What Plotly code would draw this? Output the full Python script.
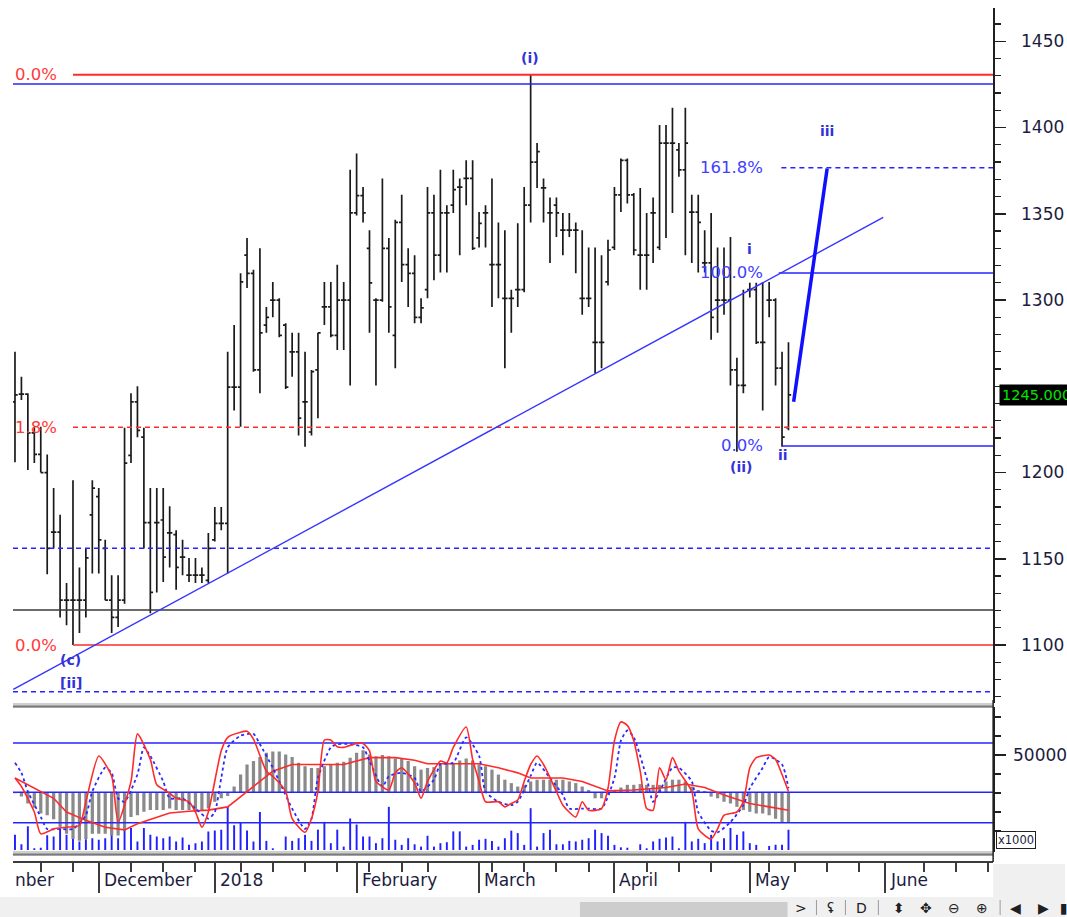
import plotly.graph_objects as go

W, H = 1067, 917

# ---------------- price bars (daily, index = trading day from mid-Nov 2017) ----------------
opens = [1241, 1245.5, 1245.5, 1223, 1210.5, 1200, 1165.5, 1165.5, 1126, 1126,
         1126, 1126, 1175.5, 1186, 1156, 1126, 1116, 1126, 1210, 1241,
         1220.5, 1171, 1171, 1172.5, 1165, 1164, 1151, 1140.5, 1140.5, 1140.5,
         1137.5, 1161, 1170.5, 1170.5, 1249.5, 1249.5, 1326, 1315.5, 1259.5, 1285.5,
         1300, 1300, 1285.5, 1270, 1270, 1241, 1223.5, 1259.5, 1296, 1296,
         1279.5, 1300, 1300, 1350.5, 1360.5, 1330, 1300, 1300, 1330, 1279.5,
         1345, 1320.5, 1315.5, 1290, 1306, 1350.5, 1326, 1350.5, 1355, 1365.5,
         1370.5, 1370.5, 1336, 1350.5, 1320.5, 1320.5, 1301, 1301, 1306, 1306,
         1355, 1380, 1365, 1350.5, 1355, 1340.5, 1340.5, 1340.5, 1301, 1301,
         1275.5, 1275.5, 1310.5, 1330.5, 1361, 1381, 1361, 1326, 1326, 1350.5,
         1330.5, 1391, 1391, 1387, 1375.5, 1351, 1351, 1321.5, 1321.5, 1300,
         1300, 1300, 1259.5, 1250.5, 1306, 1306, 1275.5, 1300, 1300, 1260.5,
         1226]
highs = [1270, 1255.5, 1246, 1226.5, 1226.5, 1210.5, 1191, 1175.5, 1136, 1195.5,
         1145, 1156, 1195.5, 1191, 1161, 1140.5, 1140.5, 1226, 1246, 1250,
         1226, 1191, 1191, 1191, 1180.5, 1166.5, 1161, 1150.5, 1150.5, 1145,
         1165, 1180, 1180, 1270, 1285.5, 1315.5, 1336, 1317.5, 1330, 1296,
         1310.5, 1301, 1286.5, 1281, 1281, 1270, 1259.5, 1281, 1310.5, 1310.5,
         1320.5, 1310.5, 1375.5, 1385, 1365.5, 1340.5, 1301, 1370.5, 1336, 1346.5,
         1361, 1330, 1326, 1301, 1365.5, 1361, 1375.5, 1355, 1375.5, 1370.5,
         1381, 1381, 1351, 1355, 1370.5, 1345, 1340.5, 1306, 1344.5, 1365.5,
         1430.5, 1391, 1370.5, 1359.5, 1359.5, 1350.5, 1350.5, 1345, 1340.5, 1330.5,
         1330.5, 1326, 1335, 1365.5, 1382, 1382, 1362, 1365, 1350.5, 1359.5,
         1401.5, 1401.5, 1411.5, 1391, 1411.5, 1361, 1361, 1340.5, 1350.5, 1330.5,
         1330.5, 1336.5, 1266.5, 1306, 1310, 1310, 1310.5, 1310.5, 1301, 1270,
         1275.5]
lows = [1206, 1242, 1201.5, 1205.5, 1200, 1141, 1156, 1116, 1111.5, 1100,
        1107, 1116, 1141.5, 1141.5, 1126, 1107, 1110.5, 1124, 1205.5, 1220.5,
        1156, 1118.5, 1130.5, 1136.5, 1145, 1132, 1140.5, 1136.5, 1136, 1136,
        1136, 1160, 1166.5, 1141.5, 1236, 1226.5, 1307, 1258.5, 1246, 1281,
        1290, 1278.5, 1248.5, 1255.5, 1221.5, 1215, 1221.5, 1231.5, 1285.5, 1278.5,
        1271, 1271, 1250.5, 1349, 1345, 1281, 1250.5, 1299, 1281, 1260.5,
        1310.5, 1296, 1286.5, 1286.5, 1301, 1311.5, 1316, 1316, 1350.5, 1326,
        1355, 1329, 1330.5, 1330.5, 1296, 1301, 1260.5, 1281, 1296, 1304.5,
        1345, 1365, 1345, 1321.5, 1336.5, 1326, 1336.5, 1315.5, 1291.5, 1296,
        1257.5, 1260.5, 1308.5, 1329, 1351, 1356, 1326, 1306, 1306, 1321.5,
        1329, 1336, 1350.5, 1371.5, 1326, 1321.5, 1316, 1316, 1277, 1281,
        1291.5, 1250.5, 1212, 1246, 1301.5, 1274.5, 1236, 1290, 1250.5, 1215,
        1224.5]
closes = [1245, 1245.5, 1223, 1210.5, 1200, 1156, 1165.5, 1126, 1126, 1126,
          1126, 1150.5, 1191, 1161, 1126, 1116, 1126, 1205.5, 1241, 1224.5,
          1171, 1130.5, 1171, 1151, 1165, 1145, 1151, 1140.5, 1140.5, 1140.5,
          1156, 1170.5, 1170.5, 1249.5, 1249.5, 1310.5, 1315.5, 1259.5, 1281, 1290,
          1300, 1279.5, 1249.5, 1270, 1231.5, 1241, 1258.5, 1281, 1296, 1279.5,
          1300, 1300, 1350.5, 1360.5, 1350.5, 1310, 1300, 1330, 1296, 1345,
          1320.5, 1315.5, 1290, 1295.5, 1350.5, 1326, 1350.5, 1350.5, 1364, 1365.5,
          1370.5, 1330, 1344.5, 1350.5, 1320.5, 1320.5, 1301, 1301, 1306, 1355,
          1380, 1386, 1365, 1350.5, 1350.5, 1340.5, 1340.5, 1340.5, 1301, 1301,
          1275.5, 1275.5, 1329, 1361, 1381, 1361, 1329, 1326, 1326, 1350.5,
          1391, 1391, 1391, 1375.5, 1391, 1351, 1345, 1321.5, 1290, 1300,
          1300, 1259.5, 1250.5, 1250.5, 1306, 1275.5, 1275.5, 1300, 1260.5, 1220.5,
          1245]
bar_idx = list(range(len(closes)))
last_price = 1245.000

# ---------------- lower panel (values in thousands) ----------------
volume_k = [8.0, 3.0, 12.5, 0.9, 1.2, 7.7, 7.1, 11.6, 8.0, 8.4,
            4.5, 5.7, 6.2, 5.4, 6.2, 8.4, 6.2, 10.7, 11.6, 4.5,
            11.6, 8.0, 7.1, 6.2, 7.1, 4.5, 6.6, 2.7, 3.6, 4.5,
            9.8, 10.2, 10.7, 22.7, 13.0, 14.8, 10.2, 4.5, 20.0, 4.8,
            0.9, 0.0, 7.1, 4.8, 6.2, 8.0, 4.8, 10.7, 14.8, 3.6,
            10.7, 1.8, 16.6, 13.4, 7.1, 7.1, 3.6, 6.2, 22.7, 5.4,
            2.7, 6.2, 3.0, 1.8, 7.5, 1.8, 3.6, 4.1, 9.8, 9.8,
            1.8, 2.7, 5.4, 5.9, 4.8, 1.8, 6.2, 10.2, 8.9, 2.7,
            22.0, 1.8, 8.9, 10.7, 3.0, 3.0, 4.8, 4.5, 5.4, 6.2,
            10.7, 8.9, 7.5, 2.7, 1.4, 1.2, 0.0, 3.0, 0.9, 4.5,
            5.9, 6.6, 7.1, 0.9, 14.8, 4.5, 5.9, 3.6, 8.0, 4.5,
            6.2, 11.6, 8.0, 9.8, 3.6, 2.7, 0.0, 2.1, 2.7, 2.7,
            10.7]
hist_k = [-0.5, -2.3, -5.9, -8.2, -11.2, -12.1, -14.2, -18.3, -21.9, -24.6,
          -25.5, -24.6, -21.9, -21.9, -21.9, -22.8, -22.8, -20.1, -13.0, -12.1,
          -10.3, -9.4, -9.4, -9.4, -8.5, -9.4, -9.4, -9.4, -10.3, -9.4,
          -8.5, -5.0, -3.2, -2.0, 3.0, 9.3, 14.6, 16.4, 18.5, 20.8,
          21.4, 21.4, 19.9, 18.5, 15.5, 13.7, 12.8, 12.8, 13.7, 14.6,
          15.5, 16.0, 18.2, 20.8, 22.1, 19.9, 19.0, 19.6, 19.0, 17.8,
          17.8, 16.4, 13.7, 11.9, 12.8, 13.2, 14.2, 15.0, 15.5, 16.7,
          17.8, 16.7, 14.6, 13.7, 11.9, 9.3, 6.6, 4.8, 3.0, 3.9,
          5.7, 6.6, 6.6, 6.6, 6.6, 6.6, 5.7, 4.8, 3.0, 1.2,
          -3.2, -3.2, -1.4, 1.2, 2.5, 3.9, 3.9, 4.3, 3.9, 3.9,
          3.9, 5.7, 6.6, 6.6, 5.7, 3.0, 1.2, 0.7, -2.3, -3.2,
          -5.0, -5.9, -7.7, -9.4, -10.3, -11.2, -11.2, -12.1, -13.9, -15.7,
          -15.7]
hist_base_k = 30.4
osc_levels_k = [56.3, 30.4, 14.4]

osc_fast = [(0, 37.9), (1, 33.4), (3, 20.0), (4, 8.5), (6, 11.1), (8, 12.0), (10, 12.9), (11, 25.4),
            (13, 49.5), (15, 38.8), (16, 14.7), (18, 36.1), (19, 61.1), (21, 47.7), (22, 34.3),
            (24, 29.9), (25, 27.2), (27, 25.4), (28, 20.0), (29, 12.0), (30, 20.0), (32, 52.2),
            (33, 59.3), (35, 62.0), (36, 62.5), (37, 58.4), (39, 41.5), (40, 38.8), (42, 30.8),
            (43, 16.5), (45, 9.3), (46, 16.5), (47, 30.8), (48, 57.9), (49, 57.9), (50, 54.3),
            (51, 54.0), (53, 56.1), (54, 56.1), (55, 52.2), (56, 36.1), (58, 31.6), (59, 40.6),
            (60, 43.3), (62, 35.2), (63, 27.2), (64, 36.1), (66, 46.8), (67, 45.9), (68, 54.0),
            (70, 64.7), (71, 47.7), (72, 36.1), (73, 25.4), (75, 25.4), (76, 22.7), (77, 24.5),
            (78, 26.3), (79, 36.1), (80, 45.0), (81, 49.5), (82, 45.0), (84, 30.8), (85, 23.6),
            (87, 17.4), (88, 25.4), (89, 20.9), (91, 21.8), (92, 32.5), (93, 57.5), (94, 67.4),
            (95, 65.6), (96, 57.5), (97, 41.5), (98, 21.8), (99, 20.9), (100, 43.3), (101, 37.0),
            (102, 48.6), (103, 41.5), (105, 30.8), (106, 11.1), (108, 5.8), (109, 11.1),
            (110, 18.3), (112, 20.0), (113, 25.4), (114, 43.3), (115, 48.6), (117, 50.0),
            (118, 47.7), (119, 39.7), (120, 30.8)]
osc_slow = [(0, 45.9), (1, 40.6), (2, 30.8), (4, 17.4), (5, 11.1), (7, 11.1), (9, 11.1), (11, 18.3),
            (12, 30.8), (14, 43.3), (15, 40.6), (16, 27.2), (17, 25.4), (19, 39.7), (20, 54.0),
            (21, 49.5), (23, 36.1), (24, 27.2), (26, 27.2), (28, 21.8), (30, 16.5), (31, 20.0),
            (32, 37.9), (33, 54.0), (35, 60.2), (37, 61.1), (38, 55.7), (40, 43.3), (41, 36.1),
            (43, 21.8), (45, 11.1), (46, 16.5), (47, 37.9), (49, 54.0), (50, 55.7), (52, 55.7),
            (54, 54.0), (55, 46.8), (57, 33.4), (58, 38.8), (60, 40.6), (62, 37.9), (63, 30.8),
            (65, 37.0), (66, 45.0), (68, 45.9), (70, 59.3), (72, 49.5), (73, 30.8), (75, 25.4),
            (77, 23.6), (78, 25.4), (80, 39.0), (81, 45.9), (83, 37.9), (85, 29.0), (86, 21.8),
            (88, 21.8), (89, 21.8), (91, 21.8), (93, 37.9), (94, 57.5), (95, 62.9), (96, 59.3),
            (98, 37.9), (99, 25.4), (100, 30.8), (102, 43.3), (103, 43.3), (105, 36.1),
            (106, 20.0), (108, 10.2), (109, 9.3), (111, 14.7), (113, 23.6), (114, 32.5),
            (116, 43.3), (117, 49.0), (119, 45.0), (120, 32.5)]
osc_signal = [(0, 37.9), (3, 32.5), (6, 27.2), (8, 20.0), (11, 15.6), (14, 12.0), (17, 10.6),
              (19, 13.8), (22, 17.4), (24, 19.5), (27, 20.4), (30, 21.0), (33, 22.7), (35, 28.1),
              (38, 36.1), (40, 41.5), (43, 45.0), (46, 45.0), (48, 45.0), (51, 45.0), (53, 46.8),
              (55, 48.6), (59, 48.6), (62, 47.2), (64, 45.4), (67, 45.4), (72, 45.4), (75, 43.3),
              (78, 40.6), (80, 37.9), (85, 37.9), (88, 36.1), (90, 33.4), (92, 31.1), (96, 31.6),
              (101, 32.9), (104, 34.7), (107, 32.9), (110, 28.9), (114, 24.5), (117, 22.7),
              (120, 20.9)]

# ---------------- levels / drawings ----------------
red_top, red_618, red_low = 1430.6, 1226.2, 1100.0
blue_top = 1425.2
blue_dash_levels = [1156.1, 1072.9]
black_level = 1120.3
proj_labels = ["161.8%", "100.0%", "0.0%"]
proj_values = [1376.7, 1315.7, 1215.4]
proj_start = [118.9, 118.5, 119.0]
fib_anchor_idx = 9
trend_x, trend_y = [-0.26, 134.7], [1074.3, 1347.9]
wave3_x, wave3_y = [120.8, 126.0], [1241.0, 1376.3]
wave_labels = ["(i)", "iii", "i", "(ii)", "ii", "(c)", "[ii]"]
wave_x = [79.9, 126.0, 114.0, 112.6, 119.2, 8.67, 8.67]
wave_y = [1440.3, 1398.0, 1329.6, 1203.2, 1210.1, 1091.3, 1078.0]

month_tick_idx = [13, 31, 53, 72, 93, 114, 135]
month_labels = ["December", "2018", "February", "March", "April", "May", "June"]
week_tick_idx = [4, 9, 18, 23, 28, 35, 40, 45, 50, 55, 60, 64, 74, 79, 84, 89,
                 98, 103, 108, 117, 121, 126, 131, 141, 146, 151]
price_ticks = [1100, 1150, 1200, 1250, 1300, 1350, 1400, 1450]
price_tick_text = ["1100", "1150", "1200", "", "1300", "1350", "1400", "1450"]  # 1250 hidden by price tag

X0, X1 = -0.31, 151.75
FONT = "DejaVu Sans"
RED = "#ff2a2a"
BLUE = "#2424ff"

def px(x):
    return x / W

def py(y):
    return 1 - y / H

fig = go.Figure()

def hline(y, x0, x1, color, width=1.5, dash=None, yaxis="y"):
    fig.add_trace(go.Scatter(x=[x0, x1], y=[y, y], mode="lines", yaxis=yaxis,
                             line=dict(color=color, width=width, dash=dash),
                             hoverinfo="skip", showlegend=False))

# main panel levels
hline(red_top, fib_anchor_idx, X1, RED, 2)
hline(blue_top, X0, X1, BLUE, 1.6)
hline(red_618, fib_anchor_idx, X1, RED, 1.5, "5px,4px")
hline(red_low, fib_anchor_idx, X1, RED, 1.6)
for v in blue_dash_levels:
    hline(v, X0, X1, BLUE, 1.5, "5px,4px")
hline(black_level, X0, X1, "#3a3a3a", 1.6)
hline(proj_values[0], proj_start[0], X1, BLUE, 1.5, "5px,4px")
hline(proj_values[1], proj_start[1], X1, BLUE, 1.6)
hline(proj_values[2], proj_start[2], X1, BLUE, 1.6)

fig.add_trace(go.Scatter(x=trend_x, y=trend_y, mode="lines", line=dict(color="#3535ff", width=1.4),
                         hoverinfo="skip", showlegend=False))

fig.add_trace(go.Ohlc(x=bar_idx, open=opens, high=highs, low=lows, close=closes,
                      increasing=dict(line=dict(color="#1a1a1a", width=1.7)),
                      decreasing=dict(line=dict(color="#1a1a1a", width=1.7)),
                      tickwidth=0.42, hoverinfo="skip", showlegend=False))

fig.add_trace(go.Scatter(x=wave3_x, y=wave3_y, mode="lines", line=dict(color="#1010ff", width=3.5),
                         hoverinfo="skip", showlegend=False))

# lower panel
for v in osc_levels_k:
    hline(v * 1000, X0, X1, BLUE, 1.5, None, "y2")

fig.add_trace(go.Bar(x=bar_idx, y=[v * 1000 for v in volume_k], width=0.3, yaxis="y2",
                     marker=dict(color="#2020ff", line=dict(width=0)),
                     hoverinfo="skip", showlegend=False))
fig.add_trace(go.Bar(x=bar_idx, y=[v * 1000 for v in hist_k], base=hist_base_k * 1000,
                     width=0.5, yaxis="y2", marker=dict(color="#8a8a8a", line=dict(width=0)),
                     hoverinfo="skip", showlegend=False))

def osc_line(pairs, color, dash=None, shape="spline", width=1.6):
    fig.add_trace(go.Scatter(x=[p[0] for p in pairs], y=[p[1] * 1000 for p in pairs],
                             mode="lines", yaxis="y2",
                             line=dict(color=color, width=width, dash=dash, shape=shape,
                                       smoothing=0.6 if shape == "spline" else None),
                             hoverinfo="skip", showlegend=False))

osc_line(osc_signal, RED, None, "linear", 1.6)
osc_line(osc_slow, "#2a2aff", "dot", "spline", 1.8)
osc_line(osc_fast, RED, None, "spline", 1.6)

# ---------------- annotations ----------------
ann = []
for v, t in [(red_top, "0.0%"), (red_618, "1.8%"), (red_low, "0.0%")]:
    ann.append(dict(x=px(13), xref="paper", y=v, yref="y", text=t, showarrow=False,
                    xanchor="left", yanchor="middle", font=dict(family=FONT, size=16.5, color="#ff3a3a")))
for t, v in zip(proj_labels, proj_values):
    ann.append(dict(x=116.4, xref="x", y=v, yref="y", text=t, showarrow=False,
                    xanchor="right", yanchor="middle", font=dict(family=FONT, size=16.5, color="#4040ff")))
for t, x, y in zip(wave_labels, wave_x, wave_y):
    ann.append(dict(x=x, xref="x", y=y, yref="y", text="<b>" + t + "</b>", showarrow=False,
                    xanchor="center", yanchor="middle", font=dict(family=FONT, size=14, color="#3232d8")))
ann.append(dict(x=px(1001), xref="paper", y=last_price, yref="y", text="%.3f" % last_price,
                showarrow=False, xanchor="left", yanchor="middle", bgcolor="black", borderpad=2,
                font=dict(family=FONT, size=14.5, color="#00e600")))
ann.append(dict(x=px(13), xref="paper", y=py(880), yref="paper", text="nber", showarrow=False,
                xanchor="left", yanchor="middle", font=dict(family=FONT, size=17, color="#1c1c40")))
for t, m in zip(month_labels, month_tick_idx):
    ann.append(dict(x=m + 0.45, xref="x", y=py(880), yref="paper", text=t, showarrow=False,
                    xanchor="left", yanchor="middle", font=dict(family=FONT, size=17, color="#1c1c40")))
ann.append(dict(x=px(998), xref="paper", y=py(840), yref="paper", text="x1000", showarrow=False,
                xanchor="left", yanchor="middle", bordercolor="#202020", borderwidth=1, borderpad=1,
                bgcolor="white", font=dict(family=FONT, size=11.5, color="#1c1c40")))
for t, x in [(">", 803), ("ʢ", 832), ("D", 863), ("⬍", 901), ("✥", 928), ("⊖", 956),
             ("⊕", 984), ("◀", 1017), ("▶", 1045), ("▮", 1066)]:
    ann.append(dict(x=px(x), xref="paper", y=py(908), yref="paper", text=t, showarrow=False,
                    xanchor="center", yanchor="middle", font=dict(family=FONT, size=14, color="#202020")))

# ---------------- shapes (frame decoration) ----------------
shapes = []
for y0 in (703, 851):
    shapes.append(dict(type="rect", xref="paper", yref="paper", x0=px(13), x1=px(995),
                       y0=py(y0), y1=py(y0 + 5), fillcolor="#cfcfcf", line=dict(width=0), layer="above"))
    shapes.append(dict(type="line", xref="paper", yref="paper", x0=px(13), x1=px(995),
                       y0=py(y0 + 3.5), y1=py(y0 + 3.5), line=dict(color="#7a7a7a", width=2), layer="above"))
shapes.append(dict(type="line", xref="paper", yref="paper", x0=px(995), x1=px(995),
                   y0=py(862), y1=py(700), line=dict(color="#202020", width=1.5), layer="above"))
shapes.append(dict(type="rect", xref="paper", yref="paper", x0=0, x1=1, y0=0, y1=py(897),
                   fillcolor="#f0f0f0", line=dict(width=0), layer="above"))
shapes.append(dict(type="rect", xref="paper", yref="paper", x0=px(995), x1=1, y0=py(897), y1=py(864),
                   fillcolor="#f0f0f0", line=dict(width=0), layer="below"))
shapes.append(dict(type="rect", xref="paper", yref="paper", x0=px(581), x1=px(789), y0=0, y1=py(902),
                   fillcolor="#cdcdcd", line=dict(width=0), layer="above"))
for x in (818, 847, 880, 1002):
    shapes.append(dict(type="line", xref="paper", yref="paper", x0=px(x), x1=px(x), y0=py(915), y1=py(900),
                       line=dict(color="#9a9a9a", width=1), layer="above"))

fig.update_layout(
    width=W, height=H, margin=dict(l=0, r=0, t=0, b=0),
    paper_bgcolor="white", plot_bgcolor="white",
    barmode="overlay", showlegend=False, hovermode=False,
    annotations=ann, shapes=shapes,
    xaxis=dict(domain=[px(13), px(995)], range=[X0, X1], anchor="free", position=py(862),
               showgrid=False, zeroline=False, showline=True, linecolor="#3c3c3c", linewidth=2,
               ticks="outside", tickmode="array", tickvals=month_tick_idx, ticklen=30, tickwidth=2,
               tickcolor="#3c3c3c", showticklabels=False,
               minor=dict(tickmode="array", tickvals=week_tick_idx, ticks="outside", ticklen=9,
                          tickwidth=2, tickcolor="#3c3c3c", showgrid=False),
               rangeslider=dict(visible=False), fixedrange=True),
    yaxis=dict(domain=[py(703), py(8)], range=[1066.4, 1469.3], side="right", anchor="x",
               showgrid=False, zeroline=False, showline=True, linecolor="#202020", linewidth=1.5,
               ticks="outside", tickmode="array", tickvals=price_ticks, ticktext=price_tick_text,
               ticklen=11, tickwidth=1.5, tickcolor="#202020", ticklabelstandoff=12,
               tickfont=dict(family=FONT, size=17, color="#1c1c40"),
               minor=dict(dtick=10, tick0=1100, ticks="outside", ticklen=6, tickwidth=1.2,
                          tickcolor="#202020", showgrid=False), fixedrange=True),
    yaxis2=dict(domain=[py(852), py(707)], range=[-1050, 75260], side="right", anchor="x",
                showgrid=False, zeroline=False, showline=True, linecolor="#202020", linewidth=1.5,
                ticks="outside", tickmode="array", tickvals=[50000], ticktext=["50000"], ticklen=11,
                tickwidth=1.5, tickcolor="#202020", ticklabelstandoff=4,
                tickfont=dict(family=FONT, size=17, color="#1c1c40"),
                minor=dict(tickmode="array", tickvals=[10000, 20000, 30000, 40000, 60000, 70000],
                           ticks="outside", ticklen=6, tickwidth=1.2, tickcolor="#202020",
                           showgrid=False), fixedrange=True),
)

fig.write_html("out.html", config={"displayModeBar": False, "staticPlot": True},
               post_script="document.body.style.margin='0';document.body.style.overflow='hidden';")
